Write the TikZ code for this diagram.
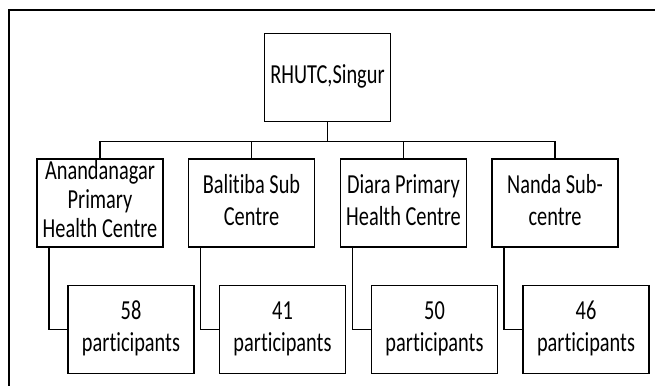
\documentclass[tikz,border=0pt]{standalone}
\usepackage{fontspec}
\usepackage{graphicx}
\setmainfont[Ligatures=NoCommon]{Carlito}
\usetikzlibrary{positioning}
\newcommand{\narrow}[1]{\scalebox{0.74}[1]{\begin{tabular}{@{}c@{}}#1\end{tabular}}}

\begin{document}
\begin{tikzpicture}[x=1pt, y=-1pt, line width=1.2pt,
    box/.style={draw, rectangle, minimum width=126pt, minimum height=88pt,
        align=center, inner sep=0pt, font=\fontsize{27.5}{32}\selectfont}]
    \useasboundingbox (0,0) rectangle (655,385);

    % outer frame
    \draw (9,390) -- (9,10) -- (660,10);

    % the training centre
    \node[box] (root) at (327.5,77.5) {\narrow{RHUTC,Singur}};

    % the four health units
    \node[box, font=\fontsize{27.5}{29}\selectfont] (u1) at (100,203) {\narrow{Anandanagar\\Primary\\Health Centre}};
    \node[box] (u2) at (251.5,203) {\narrow{Balitiba Sub\\Centre}};
    \node[box] (u3) at (403.5,203) {\narrow{Diara Primary\\Health Centre}};
    \node[box] (u4) at (555,203) {\narrow{Nanda Sub-\\centre}};

    % participants per unit
    \foreach \n[count=\k] in {58, 41, 50, 46}{
        \node[box, below=37pt of u\k, xshift=31pt] (p\k) {\narrow{\n\\participants}};
    }

    % tree lines
    \foreach \k in {1,...,4}{
        \draw (root.south) -- ++(0,19.5) -| (u\k.north);
        \draw ([xshift=-51pt]u\k.south) |- (p\k.west);
    }
\end{tikzpicture}
\end{document}
